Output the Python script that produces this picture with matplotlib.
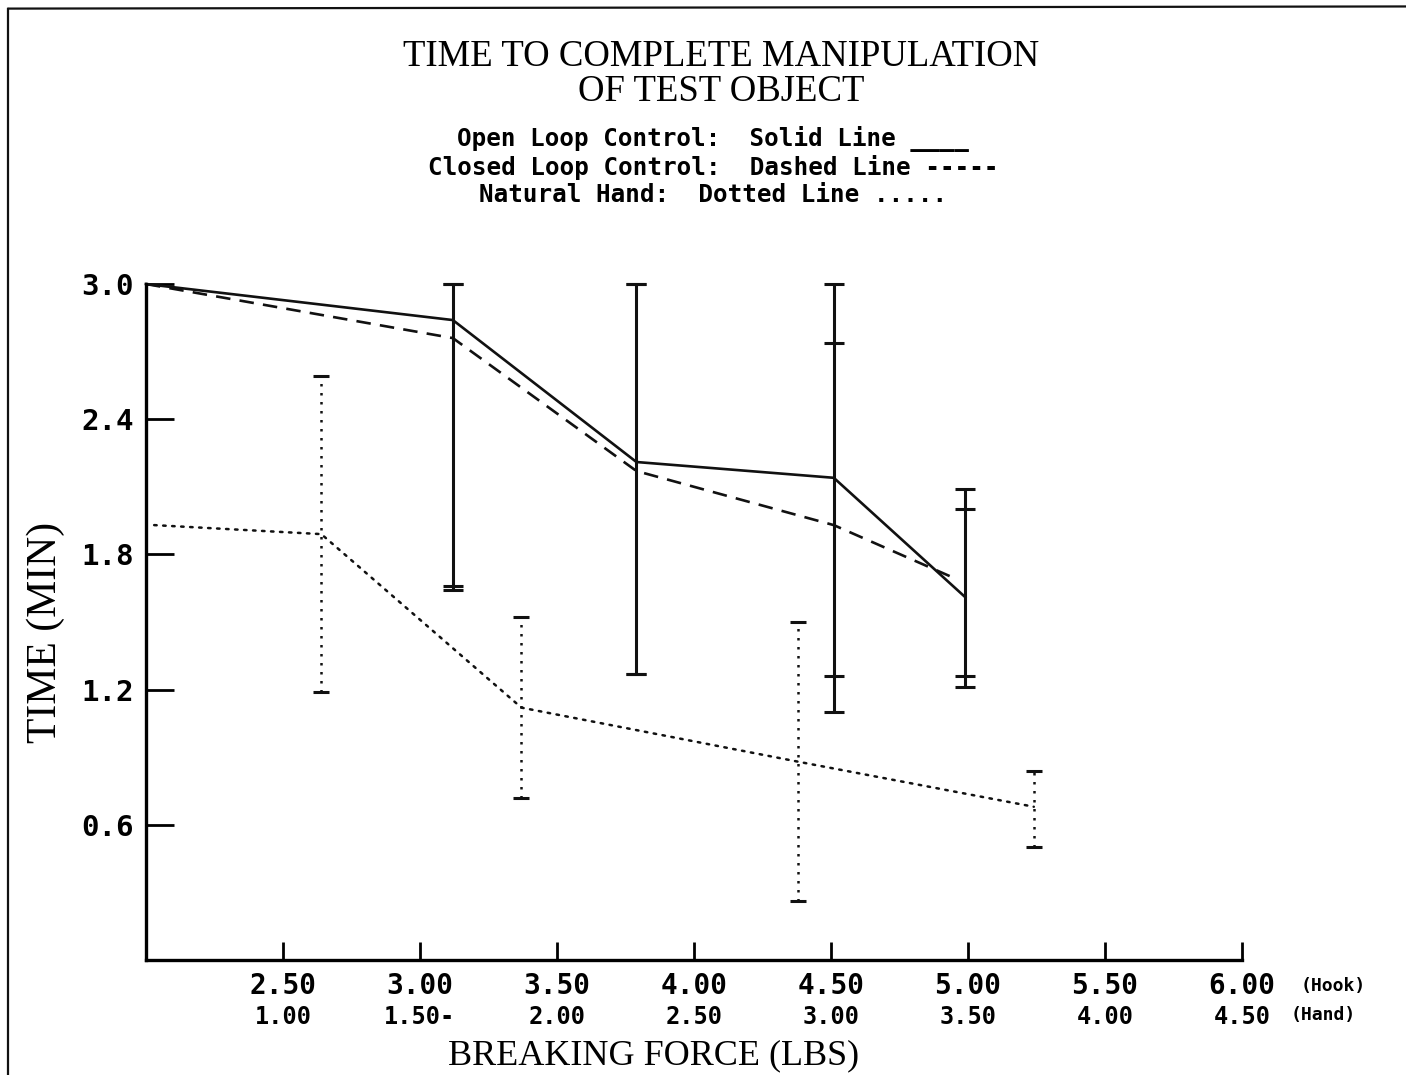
import matplotlib
matplotlib.use("Agg")
import matplotlib.pyplot as plt
from matplotlib.lines import Line2D
import numpy as np

# Breaking force (hook scale), time in minutes
open_x = [2.00, 3.12, 3.79, 4.51, 4.99]
open_y = [3.00, 2.84, 2.21, 2.14, 1.61]
open_lo = [3.00, 1.64, 1.27, 1.10, 1.21]
open_hi = [3.00, 3.00, 3.00, 3.00, 2.09]

closed_x = [2.00, 3.12, 3.79, 4.51, 4.94]
closed_y = [3.00, 2.76, 2.17, 1.93, 1.70]
closed_ex = [3.12, 3.79, 4.51, 4.99]
closed_lo = [1.66, 1.27, 1.26, 1.26]
closed_hi = [3.00, 3.00, 2.74, 2.00]

hand_x = [2.03, 2.64, 3.37, 4.38, 5.24]
hand_y = [1.93, 1.89, 1.12, 0.88, 0.68]
hand_ex = [2.64, 3.37, 4.38, 5.24]
hand_lo = [1.19, 0.72, 0.26, 0.50]
hand_hi = [2.59, 1.52, 1.50, 0.84]

hook_ticks = [2.5, 3.0, 3.5, 4.0, 4.5, 5.0, 5.5, 6.0]
hook_labels = ["2.50", "3.00", "3.50", "4.00", "4.50", "5.00", "5.50", "6.00"]
hand_ticks = [1.0, 1.5, 2.0, 2.5, 3.0, 3.5, 4.0, 4.5]
hand_labels = ["1.00", "1.50-", "2.00", "2.50", "3.00", "3.50", "4.00", "4.50"]
y_ticks = [0.6, 1.2, 1.8, 2.4, 3.0]
y_labels = ["0.6", "1.2", "1.8", "2.4", "3.0"]

serif = "Liberation Serif"
mono = "DejaVu Sans Mono"
ink = "#111111"

fig = plt.figure(figsize=(14.06, 10.75), dpi=100)
ax = fig.add_axes([0.1038, 0.107, 0.7796, 0.6288])

# lines
ax.plot(open_x, open_y, color=ink, lw=1.9, clip_on=False)
ax.plot(closed_x, closed_y, color=ink, lw=1.9, linestyle=(0, (5.5, 3.5)), clip_on=False)
ax.plot(hand_x, hand_y, color=ink, lw=1.8, linestyle=(0, (1, 2.6)),
        dash_capstyle="round", clip_on=False)

# error bars
def bars(xs, lo, hi, ls, lw, cap):
    xs = np.array(xs)
    lo = np.array(lo)
    hi = np.array(hi)
    mid = (lo + hi) / 2
    eb = ax.errorbar(xs, mid, yerr=[mid - lo, hi - mid], fmt="none", ecolor=ink,
                     elinewidth=lw, capsize=cap, capthick=2.2, clip_on=False)
    for c in eb[2]:
        c.set_linestyle(ls)
    for c in eb[1]:
        c.set_clip_on(False)

bars(open_x[1:], open_lo[1:], open_hi[1:], "-", 2.2, 7)
bars(closed_ex, closed_lo, closed_hi, "-", 2.0, 7)
bars(hand_ex, hand_lo, hand_hi, (0, (1, 2.6)), 1.8, 6)

ax.set_xlim(2.0, 6.0)
ax.set_ylim(0.0, 3.0)
ax.spines["top"].set_visible(False)
ax.spines["right"].set_visible(False)
ax.spines["left"].set_linewidth(2.4)
ax.spines["bottom"].set_linewidth(2.4)

ax.set_yticks(y_ticks)
ax.set_yticklabels(y_labels, fontfamily=mono, fontweight="bold", fontsize=21)
ax.tick_params(axis="y", direction="in", length=20, width=2, pad=9)
ax.set_xticks(hook_ticks)
ax.set_xticklabels(hook_labels, fontfamily=mono, fontweight="bold", fontsize=20)
ax.tick_params(axis="x", direction="in", length=13, width=2, pad=9)

# second row: hand breaking force
sec = ax.secondary_xaxis(-0.066, functions=(lambda x: x - 1.5, lambda x: x + 1.5))
sec.set_xticks(hand_ticks)
sec.set_xticklabels(hand_labels, fontfamily=mono, fontweight="bold", fontsize=17)
sec.tick_params(axis="x", length=0, pad=0)
sec.spines["bottom"].set_visible(False)

ax.text(1.053, -0.038, "(Hook)", transform=ax.transAxes, fontfamily=mono,
        fontweight="bold", fontsize=13, va="center", ha="left")
ax.text(1.044, -0.081, "(Hand)", transform=ax.transAxes, fontfamily=mono,
        fontweight="bold", fontsize=13, va="center", ha="left")

ax.set_ylabel("TIME (MIN)", fontfamily=serif, fontsize=30)
ax.yaxis.set_label_coords(-0.074, 0.485)
ax.set_xlabel("BREAKING FORCE (LBS)", fontfamily=serif, fontsize=26)
ax.xaxis.set_label_coords(0.463, -0.118)

fig.text(0.513, 0.931, "TIME TO COMPLETE MANIPULATION\nOF TEST OBJECT",
         fontfamily=serif, fontsize=26.5, ha="center", va="center",
         linespacing=1.0)
fig.text(0.507, 0.845,
         "Open Loop Control:  Solid Line ____\n"
         "Closed Loop Control:  Dashed Line -----\n"
         "Natural Hand:  Dotted Line .....",
         fontfamily=mono, fontweight="bold", fontsize=17.5, ha="center",
         va="center", linespacing=1.15)

# page border (left and top)
fig.add_artist(Line2D([0.006, 0.006], [0.0, 0.992], color=ink, lw=1.6))
fig.add_artist(Line2D([0.006, 1.0], [0.992, 0.994], color=ink, lw=1.6))

fig.savefig("out.png", dpi=100)
